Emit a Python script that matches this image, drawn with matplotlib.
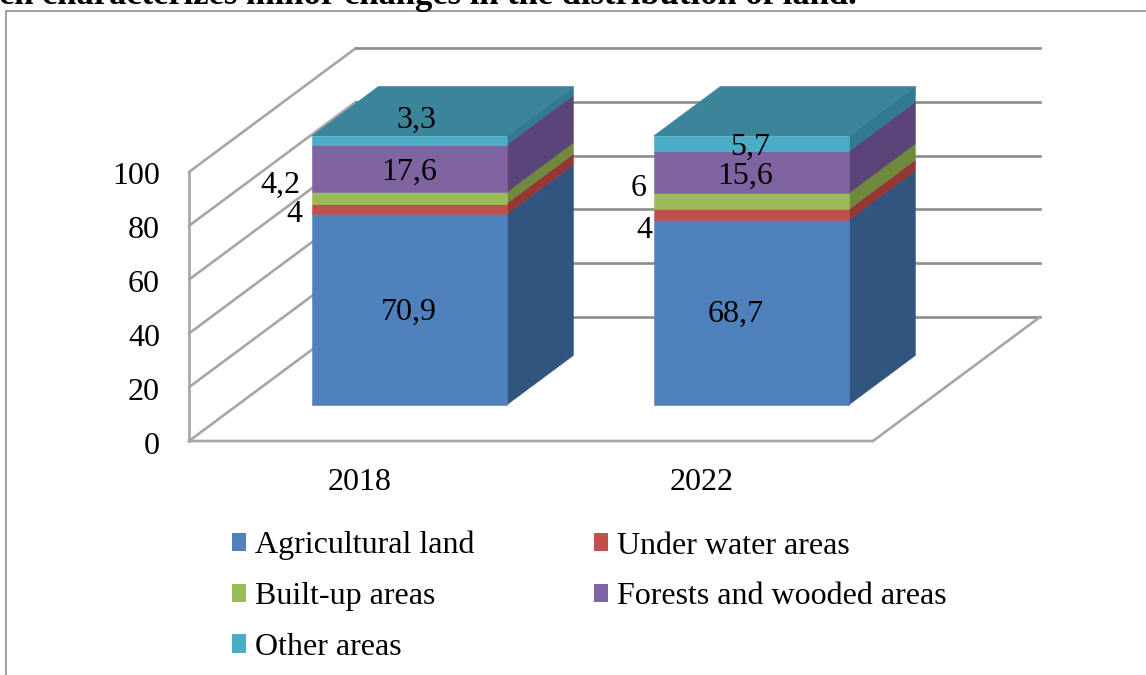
import matplotlib
matplotlib.use("Agg")
import matplotlib.pyplot as plt
from matplotlib.patches import Patch, Polygon

plt.rcParams['font.family'] = ['Liberation Serif', 'DejaVu Serif']

# Dataset
years = ["2018", "2022"]
series_names = ["Agricultural land", "Under water areas", "Built-up areas",
                "Forests and wooded areas", "Other areas"]
agricultural = [70.9, 68.7]
under_water = [4, 4]
built_up = [4.2, 6]
forests = [17.6, 15.6]
other = [3.3, 5.7]
y_ticks = [0, 20, 40, 60, 80, 100]

labels_2018 = ["70,9", "4", "4,2", "17,6", "3,3"]
labels_2022 = ["68,7", "4", "6", "15,6", "5,7"]

# colours per series: front, side
front_colors = ["#4f81bd", "#c0504d", "#9bbb59", "#8064a2", "#4bacc6"]
side_colors = ["#32557f", "#953735", "#6f8a3c", "#5a4478", "#327a90"]
top_color = "#3c849a"
wall_color = "#a6a6a6"
grid_color = "#8c8c8c"

# pixel layout of the oblique box
X0, Y0 = 189, 441
CAT_W = 342
Y_SCALE = 2.69
DX, DY = 167, 124
BAR_W = 0.57
BAR_SHIFT = 0.002
D1, D2 = 0.29, 0.69


def proj(x, v, d=0.0):
    # x in category units, v data value, d depth 0..1
    return X0 + x * CAT_W + d * DX, Y0 - v * Y_SCALE - d * DY


fig = plt.figure(figsize=(11.46, 6.75), dpi=100, facecolor='white')
ax = fig.add_axes([0, 0, 1, 1])
ax.set_xlim(0, 1146)
ax.set_ylim(675, 0)
ax.axis('off')

# outer chart frame
ax.plot([1146, 6, 6], [11, 11, 675], color="#999999", lw=1.3)

# heading, cut off by the top edge in the picture
ax.text(-1, 4, "ch characterizes minor changes in the distribution of land.",
        fontsize=24.9, fontweight='bold', va='baseline', ha='left', color='black', clip_on=True)

# walls
n_cat = len(years)
for v in y_ticks:
    xs = [proj(0, v)[0], proj(0, v, 1)[0], proj(n_cat, v, 1)[0]]
    ys = [proj(0, v)[1], proj(0, v, 1)[1], proj(n_cat, v, 1)[1]]
    ax.plot(xs[:2], ys[:2], color=wall_color, lw=1.9, solid_capstyle='round')
    ax.plot(xs[1:], ys[1:], color=grid_color, lw=1.9)
p_a, p_b = proj(0, 0), proj(0, 100)
ax.plot([p_a[0], p_b[0]], [p_a[1], p_b[1]], color=wall_color, lw=1.9)
p_c, p_d = proj(n_cat, 0), proj(n_cat, 0, 1)
ax.plot([p_a[0], p_c[0], p_d[0]], [p_a[1], p_c[1], p_d[1]], color=wall_color, lw=1.9)

# bars
series = [agricultural, under_water, built_up, forests, other]
for i in range(n_cat):
    left = i + 0.5 - BAR_W / 2 + BAR_SHIFT
    right = i + 0.5 + BAR_W / 2 + BAR_SHIFT
    base = 0
    for s in range(len(series)):
        top = base + series[s][i]
        front = [proj(left, base, D1), proj(right, base, D1), proj(right, top, D1), proj(left, top, D1)]
        side = [proj(right, base, D1), proj(right, base, D2), proj(right, top, D2), proj(right, top, D1)]
        ax.add_patch(Polygon(side, closed=True, fc=side_colors[s], ec=side_colors[s], lw=0.4, zorder=3))
        ax.add_patch(Polygon(front, closed=True, fc=front_colors[s], ec=front_colors[s], lw=0.4, zorder=3.1))
        base = top
    cap = [proj(left, base, D1), proj(right, base, D1), proj(right, base, D2), proj(left, base, D2)]
    ax.add_patch(Polygon(cap, closed=True, fc=top_color, ec=top_color, lw=0.4, zorder=3))

# axis labels
for v in y_ticks:
    ax.text(160, proj(0, v)[1] + 5, str(v), fontsize=23, ha='right', va='center')
for i in range(n_cat):
    ax.text(proj(i + 0.5, 0)[0], 482, years[i], fontsize=23, ha='center', va='center')

# data labels, placed by hand like in the picture
pos_2018 = [(409, 312), (294, 214), (280, 185), (409, 172), (416, 120)]
pos_2022 = [(736, 314), (644, 231), (639, 189), (745, 176), (750, 147)]
for txt, pos in zip(labels_2018 + labels_2022, pos_2018 + pos_2022):
    ax.text(pos[0], pos[1], txt, fontsize=23, ha='center', va='center', zorder=5)

# legend, filled column by column
order = [0, 2, 4, 1, 3]
handles = [Patch(fc=front_colors[s], ec='none', label=series_names[s]) for s in order]
ax.legend(handles=handles, ncol=2, loc='upper left', bbox_to_anchor=(232 / 1146, 1 - 531 / 675),
          frameon=False, fontsize=23, handlelength=0.44, handleheight=0.5, handletextpad=0.28,
          labelspacing=0.68, columnspacing=3.75, borderpad=0, borderaxespad=0)

fig.savefig("out.png", dpi=100)
